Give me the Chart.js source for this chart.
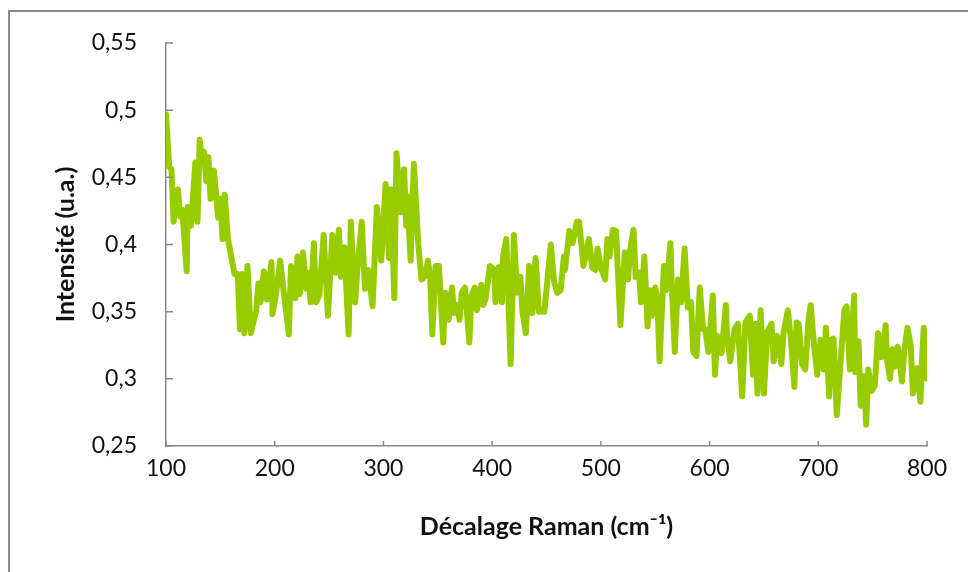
<!DOCTYPE html>
<html lang="fr">
<head>
    <meta charset="UTF-8">
    <title>Spectre Raman</title>
    <script src="https://cdnjs.cloudflare.com/ajax/libs/Chart.js/4.4.1/chart.umd.min.js"></script>
    <style>
        * {
            margin: 0;
            padding: 0;
            box-sizing: border-box;
        }

        body {
            background: #ffffff;
            width: 968px;
            height: 572px;
            overflow: hidden;
            position: relative;
        }

        .frame {
            position: absolute;
            left: 8px;
            top: 10px;
            width: 1000px;
            height: 700px;
            border: 2px solid #8a8a8a;
        }

        .chart-box {
            position: absolute;
            left: 0;
            top: 0;
            width: 968px;
            height: 572px;
        }
    </style>
</head>
<body>
    <div class="frame"></div>
    <div class="chart-box">
        <canvas id="ramanChart" width="968" height="572"></canvas>
    </div>

    <script>
        // Raman shift (cm-1) and intensity (u.a.)
        const shifts = [
            100, 103, 105, 107, 111, 113, 115, 119, 120, 123, 127, 129, 131, 133, 135, 137, 139, 141, 144, 148,
            150, 152, 154, 157, 160, 163, 166, 168, 170, 172, 174, 175, 178, 183, 185, 187, 190, 193, 197, 198,
            201, 205, 208, 213, 215, 219, 221, 223, 226, 229, 231, 233, 236, 238, 241, 245, 249, 253, 256, 259,
            261, 264, 268, 270, 274, 276, 280, 283, 286, 290, 294, 298, 302, 305, 307, 310, 312, 316, 319, 321,
            322, 325, 328, 332, 335, 338, 341, 343, 345, 348, 351, 355, 357, 360, 363, 365, 368, 370, 372, 375,
            379, 381, 384, 386, 390, 392, 394, 398, 402, 403, 406, 409, 410, 413, 417, 420, 423, 426, 428, 431,
            434, 437, 440, 443, 448, 454, 457, 460, 463, 466, 467, 471, 474, 478, 480, 484, 489, 492, 495, 497,
            500, 504, 506, 508, 511, 514, 518, 522, 525, 527, 530, 532, 535, 537, 540, 543, 545, 547, 550, 552,
            554, 558, 560, 564, 565, 568, 571, 574, 577, 580, 583, 585, 588, 591, 594, 596, 599, 603, 605, 607,
            611, 615, 616, 619, 623, 626, 630, 633, 637, 640, 642, 644, 647, 650, 653, 657, 659, 662, 666, 668,
            672, 675, 678, 680, 682, 685, 688, 691, 693, 696, 699, 702, 705, 707, 710, 712, 714, 717, 720, 724,
            726, 729, 733, 734, 737, 739, 742, 744, 746, 749, 752, 755, 758, 762, 763, 766, 768, 770, 773, 777,
            779, 782, 785, 787, 791, 794, 795, 797, 800
        ];
        const intensity = [
            0.497, 0.458, 0.456, 0.417, 0.441, 0.421, 0.426, 0.380, 0.428, 0.414, 0.461, 0.417, 0.478, 0.461, 0.469, 0.447, 0.465, 0.434, 0.455, 0.420,
            0.434, 0.404, 0.437, 0.404, 0.391, 0.378, 0.378, 0.337, 0.378, 0.334, 0.369, 0.384, 0.334, 0.351, 0.371, 0.357, 0.380, 0.359, 0.387, 0.348,
            0.362, 0.388, 0.367, 0.333, 0.384, 0.360, 0.391, 0.363, 0.394, 0.367, 0.379, 0.357, 0.401, 0.357, 0.362, 0.407, 0.347, 0.407, 0.379, 0.411,
            0.376, 0.398, 0.333, 0.417, 0.357, 0.381, 0.417, 0.367, 0.381, 0.354, 0.428, 0.388, 0.445, 0.390, 0.441, 0.360, 0.468, 0.424, 0.456, 0.414,
            0.436, 0.388, 0.460, 0.401, 0.374, 0.376, 0.388, 0.375, 0.333, 0.384, 0.384, 0.327, 0.364, 0.344, 0.368, 0.349, 0.355, 0.344, 0.364, 0.368,
            0.327, 0.362, 0.368, 0.351, 0.370, 0.355, 0.360, 0.384, 0.381, 0.357, 0.383, 0.357, 0.391, 0.404, 0.311, 0.407, 0.364, 0.376, 0.349, 0.334,
            0.384, 0.349, 0.390, 0.350, 0.350, 0.400, 0.372, 0.364, 0.366, 0.391, 0.381, 0.410, 0.401, 0.417, 0.417, 0.384, 0.404, 0.383, 0.381, 0.397,
            0.383, 0.374, 0.404, 0.391, 0.411, 0.410, 0.340, 0.394, 0.374, 0.396, 0.411, 0.376, 0.379, 0.357, 0.391, 0.339, 0.366, 0.347, 0.368, 0.359,
            0.313, 0.384, 0.366, 0.401, 0.374, 0.320, 0.374, 0.357, 0.397, 0.353, 0.357, 0.320, 0.317, 0.368, 0.337, 0.337, 0.320, 0.362, 0.303, 0.332,
            0.319, 0.355, 0.333, 0.313, 0.337, 0.341, 0.287, 0.342, 0.347, 0.303, 0.341, 0.289, 0.351, 0.289, 0.335, 0.341, 0.313, 0.332, 0.311, 0.334,
            0.351, 0.328, 0.294, 0.342, 0.341, 0.311, 0.307, 0.344, 0.355, 0.326, 0.303, 0.329, 0.307, 0.338, 0.287, 0.329, 0.330, 0.273, 0.307, 0.351,
            0.354, 0.307, 0.362, 0.305, 0.328, 0.280, 0.302, 0.266, 0.307, 0.291, 0.295, 0.334, 0.316, 0.340, 0.316, 0.300, 0.322, 0.309, 0.324, 0.298,
            0.320, 0.338, 0.325, 0.289, 0.308, 0.283, 0.308, 0.338, 0.300
        ];

        const xTicks = [100, 200, 300, 400, 500, 600, 700, 800];
        const yTicks = [0.25, 0.3, 0.35, 0.4, 0.45, 0.5, 0.55];

        const axisColor = '#8a8a8a';
        const textColor = '#111111';
        const fontFamily = 'Lato, "Open Sans", sans-serif';

        // small tick marks pointing into the plot, like the spreadsheet export
        const innerTicks = {
            id: 'innerTicks',
            afterDraw(chart) {
                const ctx = chart.ctx;
                const x = chart.scales.x;
                const y = chart.scales.y;
                ctx.save();
                ctx.strokeStyle = axisColor;
                ctx.lineWidth = 1.5;
                ctx.beginPath();
                y.ticks.forEach((t, i) => {
                    const py = y.getPixelForTick(i);
                    ctx.moveTo(y.right, py);
                    ctx.lineTo(y.right + 7, py);
                });
                x.ticks.forEach((t, i) => {
                    const px = x.getPixelForTick(i);
                    ctx.moveTo(px, x.top);
                    ctx.lineTo(px, x.top - 5);
                });
                ctx.stroke();
                ctx.restore();
            }
        };

        function fmt(v) {
            return String(Math.round(v * 100) / 100).replace('.', ',');
        }

        const ctx = document.getElementById('ramanChart').getContext('2d');
        new Chart(ctx, {
            type: 'line',
            data: {
                datasets: [{
                    data: shifts.map((s, i) => ({ x: s, y: intensity[i] })),
                    borderColor: '#99cc00',
                    borderWidth: 6,
                    pointRadius: 0,
                    tension: 0,
                    borderJoinStyle: 'round',
                    borderCapStyle: 'round'
                }]
            },
            options: {
                responsive: false,
                animation: false,
                devicePixelRatio: 1,
                layout: {
                    padding: { left: 0, right: 41, top: 43, bottom: 0 }
                },
                plugins: {
                    legend: { display: false },
                    tooltip: { enabled: false }
                },
                scales: {
                    x: {
                        type: 'linear',
                        min: 100,
                        max: 800,
                        afterBuildTicks: (scale) => {
                            scale.ticks = xTicks.map(v => ({ value: v }));
                        },
                        afterFit: (scale) => {
                            scale.height = 572 - 446;
                        },
                        grid: { display: false, drawTicks: false },
                        border: { color: axisColor, width: 1.5 },
                        ticks: {
                            color: textColor,
                            font: { family: fontFamily, size: 23 },
                            padding: 9,
                            maxRotation: 0,
                            autoSkip: false
                        },
                        title: {
                            display: true,
                            text: 'Décalage Raman (cm⁻¹)',
                            color: textColor,
                            font: { family: fontFamily, size: 25, weight: 'bold' },
                            padding: { top: 0, bottom: 30 }
                        }
                    },
                    y: {
                        min: 0.25,
                        max: 0.55,
                        afterBuildTicks: (scale) => {
                            scale.ticks = yTicks.map(v => ({ value: v }));
                        },
                        afterFit: (scale) => {
                            scale.width = 166;
                        },
                        grid: { display: false, drawTicks: false },
                        border: { color: axisColor, width: 1.5 },
                        ticks: {
                            color: textColor,
                            font: { family: fontFamily, size: 23 },
                            padding: 29,
                            autoSkip: false,
                            callback: (v) => fmt(v)
                        },
                        title: {
                            display: true,
                            text: 'Intensité (u.a.)',
                            color: textColor,
                            font: { family: fontFamily, size: 25, weight: 'bold' },
                            padding: { top: 51, bottom: 0 }
                        }
                    }
                }
            },
            plugins: [innerTicks]
        });
    </script>
</body>
</html>
